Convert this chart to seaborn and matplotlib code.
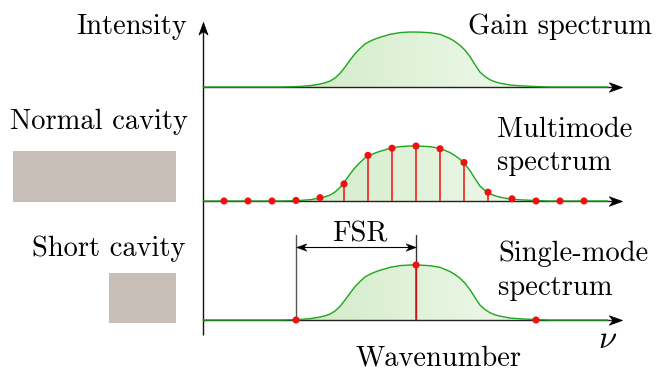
import numpy as np
import pandas as pd
import matplotlib
matplotlib.use("Agg")
import matplotlib.pyplot as plt
import seaborn as sns
from matplotlib.path import Path
from matplotlib.patches import Polygon, Rectangle
from matplotlib.colors import to_rgb

# ---------------- data ----------------
# wavenumber (arbitrary units, 0 = axis origin) and relative gain of the envelope
NU_GAIN = [0, 40, 77, 87, 97, 107, 117, 122, 127, 132, 137, 142, 147, 152, 157,
           162, 167, 172, 177, 187, 197, 207, 217, 227, 237, 247, 252, 257, 262,
           267, 272, 277, 282, 287, 292, 297, 307, 317, 327, 337, 347, 380, 405]
GAIN = [0, 0, 0, 0.004, 0.01, 0.024, 0.054, 0.076, 0.108, 0.163, 0.248, 0.362,
        0.488, 0.606, 0.70, 0.783, 0.832, 0.872, 0.904, 0.958, 0.989, 1.0, 0.998,
        0.987, 0.958, 0.881, 0.826, 0.759, 0.669, 0.552, 0.407, 0.271, 0.19, 0.132,
        0.094, 0.069, 0.036, 0.022, 0.013, 0.005, 0, 0, 0]

MULTI_MODES = [21, 45, 69, 93, 117, 141, 165, 189, 213, 237, 261, 285, 309, 333, 357, 381]
MULTI_HEIGHTS = [0, 0, 0, 0.01, 0.06, 0.31, 0.83, 0.96, 1.0, 0.95, 0.70, 0.16, 0.04, 0, 0, 0]

SINGLE_MODES = [93, 213, 333]
SINGLE_HEIGHTS = [0, 1.0, 0]

PANEL_NAMES = ["gain", "multi", "single"]
BASELINES = [285, 171, 52]
AMP = 55
AXIS_END = 419

# ---------------- style ----------------
sns.set_theme(style="white")
plt.rcParams["font.family"] = ["cmr10", "DejaVu Serif"]
plt.rcParams["mathtext.fontset"] = "cm"
plt.rcParams["axes.unicode_minus"] = False
plt.rcParams["axes.formatter.use_mathtext"] = True
plt.rcParams["text.color"] = "black"

GREEN = "#1ba71b"
RED = "#f01010"
RECT = "#c7beb7"
FS = 20.5

fig = plt.figure(figsize=(6.58, 3.72), dpi=100)
ax = fig.add_axes([0, 0, 1, 1])
ax.set_xlim(-203, 455)
ax.set_ylim(0, 372)
ax.axis("off")

def stealth(angle_deg):
    v = np.array([[0, 0], [-1, 0.36], [-0.72, 0], [-1, -0.36], [0, 0]])
    a = np.deg2rad(angle_deg)
    R = np.array([[np.cos(a), -np.sin(a)], [np.sin(a), np.cos(a)]])
    v = v @ R.T
    return Path(v, [Path.MOVETO, Path.LINETO, Path.LINETO, Path.LINETO, Path.CLOSEPOLY])

nu = np.array(NU_GAIN, dtype=float)
g = np.array(GAIN, dtype=float)

c0 = np.array(to_rgb("#d0eac4"))
c1 = np.array(to_rgb("#f2faef"))
grad = np.linspace(0, 1, 256)[None, :, None]
grad_img = c0[None, None, :] * (1 - grad) + c1[None, None, :] * grad

for base in BASELINES:
    yv = base + AMP * g
    # gradient fill under the envelope
    verts = list(zip(nu, yv)) + [(nu[-1], base), (nu[0], base)]
    poly = Polygon(verts, closed=True, facecolor="none", edgecolor="none")
    ax.add_patch(poly)
    im = ax.imshow(grad_img, extent=[77, 347, base, base + AMP + 2], aspect="auto",
                   origin="lower", zorder=1, interpolation="bilinear")
    im.set_clip_path(poly)
    # axis line
    ax.plot([0, AXIS_END - 8], [base, base], color="#222222", lw=1.0, zorder=2,
            solid_capstyle="butt")
    ax.plot([AXIS_END], [base], marker=stealth(0), ms=19, color="black",
            mec="black", mew=0.5, zorder=5, linestyle="none")
    # envelope curve
    sns.lineplot(x=nu, y=yv, ax=ax, color=GREEN, lw=1.0, sort=False,
                 estimator=None, zorder=3, legend=False)

# ax.imshow resets limits
ax.set_xlim(-203, 455)
ax.set_ylim(0, 372)

# vertical axis
ax.plot([0, 0], [37, 342], color="#111111", lw=1.0, zorder=2, solid_capstyle="butt")
ax.plot([0], [350], marker=stealth(90), ms=18, color="black", mec="black",
        mew=0.5, zorder=5, linestyle="none")

# FSR marker lines
b_single = BASELINES[2]
ax.plot([SINGLE_MODES[0]] * 2, [b_single, 137], color="#555555", lw=1.0, zorder=2)
ax.plot([SINGLE_MODES[1]] * 2, [b_single, 137], color="#333333", lw=1.0, zorder=2)
y_fsr = 125
ax.plot([SINGLE_MODES[0] + 5, SINGLE_MODES[1] - 5], [y_fsr, y_fsr], color="black",
        lw=0.8, zorder=4)
ax.plot([SINGLE_MODES[1]], [y_fsr], marker=stealth(0), ms=15, color="black",
        mec="black", mew=0.3, zorder=5, linestyle="none")
ax.plot([SINGLE_MODES[0]], [y_fsr], marker=stealth(180), ms=15, color="black",
        mec="black", mew=0.3, zorder=5, linestyle="none")

# modes
for modes, heights, base in [(MULTI_MODES, MULTI_HEIGHTS, BASELINES[1]),
                             (SINGLE_MODES, SINGLE_HEIGHTS, BASELINES[2])]:
    m = np.array(modes, dtype=float)
    h = base + AMP * np.array(heights)
    ax.vlines(m, base, h, color=RED, lw=1.1, zorder=4)
    df = pd.DataFrame({"nu": m, "I": h})
    sns.scatterplot(data=df, x="nu", y="I", ax=ax, color=RED, s=26,
                    edgecolor="none", zorder=6, legend=False)

# cavities
ax.add_patch(Rectangle((-190, 170), 163, 51, facecolor=RECT, edgecolor="none"))
ax.add_patch(Rectangle((-94, 49), 67, 50, facecolor=RECT, edgecolor="none"))

# texts
ax.text(-16, 345, "Intensity", fontsize=FS, ha="right", va="center")
ax.text(265, 345, "Gain spectrum", fontsize=FS, ha="left", va="center")
ax.text(294, 242, "Multimode", fontsize=FS, ha="left", va="center")
ax.text(294, 209, "spectrum", fontsize=FS, ha="left", va="center")
ax.text(295, 118, "Single-mode", fontsize=FS, ha="left", va="center")
ax.text(295, 84, "spectrum", fontsize=FS, ha="left", va="center")
ax.text(-15, 250, "Normal cavity", fontsize=FS, ha="right", va="center")
ax.text(-18, 123, "Short cavity", fontsize=FS, ha="right", va="center")
ax.text(157, 138, "FSR", fontsize=FS, ha="center", va="center")
ax.text(235, 14, "Wavenumber", fontsize=FS, ha="center", va="center")
ax.text(405, 33, r"$\nu$", fontsize=FS + 3, ha="center", va="center")

fig.savefig("out.png", dpi=100)
